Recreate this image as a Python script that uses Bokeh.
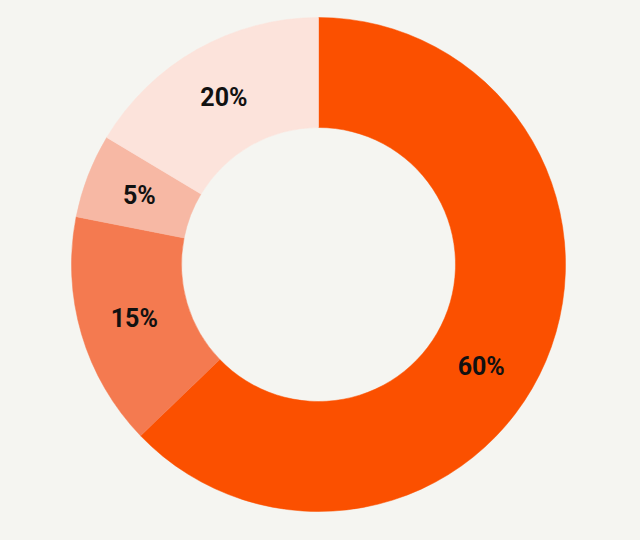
import math
from bokeh.plotting import figure
from bokeh.models import ColumnDataSource, Range1d
from bokeh.core.properties import value
from bokeh.embed import file_html
from bokeh.resources import INLINE

# Data
labels = ["60%", "15%", "5%", "20%"]
shares = [62.8, 15.3, 5.5, 16.4]          # drawn share of the ring (in %, clockwise from top)
colors = ["#FB5000", "#F47A50", "#F7B8A4", "#FCE3DB"]

# layout
BG = "#F5F5F1"
R_OUT, R_IN = 247, 137
CX, CY = 318, 264
label_nudge_deg = [-9, 0, 0, 0]

total = sum(shares)
starts, ends, lx, ly = [], [], [], []
cum = 0.0
for s, nudge in zip(shares, label_nudge_deg):
    a0 = math.pi / 2 - 2 * math.pi * cum / total
    cum += s
    a1 = math.pi / 2 - 2 * math.pi * cum / total
    starts.append(a0)
    ends.append(a1)
    mid = (a0 + a1) / 2 + math.radians(nudge)
    r = (R_OUT + R_IN) / 2
    lx.append(r * math.cos(mid))
    ly.append(r * math.sin(mid))

src = ColumnDataSource(dict(start=starts, end=ends, color=colors, label=labels, lx=lx, ly=ly))

W, H = 624, 524
p = figure(width=W, height=H, output_backend="svg", toolbar_location=None,
           x_range=Range1d(-CX, W - CX), y_range=Range1d(-(H - CY), CY),
           min_border=0)
p.axis.visible = False
p.grid.visible = False
p.outline_line_color = None
p.background_fill_color = BG
p.border_fill_color = BG

p.annular_wedge(x=0, y=0, inner_radius=R_IN, outer_radius=R_OUT,
                start_angle="start", end_angle="end", direction="clock",
                fill_color="color", line_color="color", line_width=0.5, source=src)

p.text(x="lx", y="ly", text="label", source=src, text_align="center",
       text_baseline="middle", text_font=value("Roboto"), text_font_style="bold",
       text_font_size="25px", text_color="#111111")

html = file_html(p, INLINE)
html = html.replace("<head>", "<head><style>html,body{background:#F5F5F1;}</style>", 1)
open("out.html", "w").write(html)
